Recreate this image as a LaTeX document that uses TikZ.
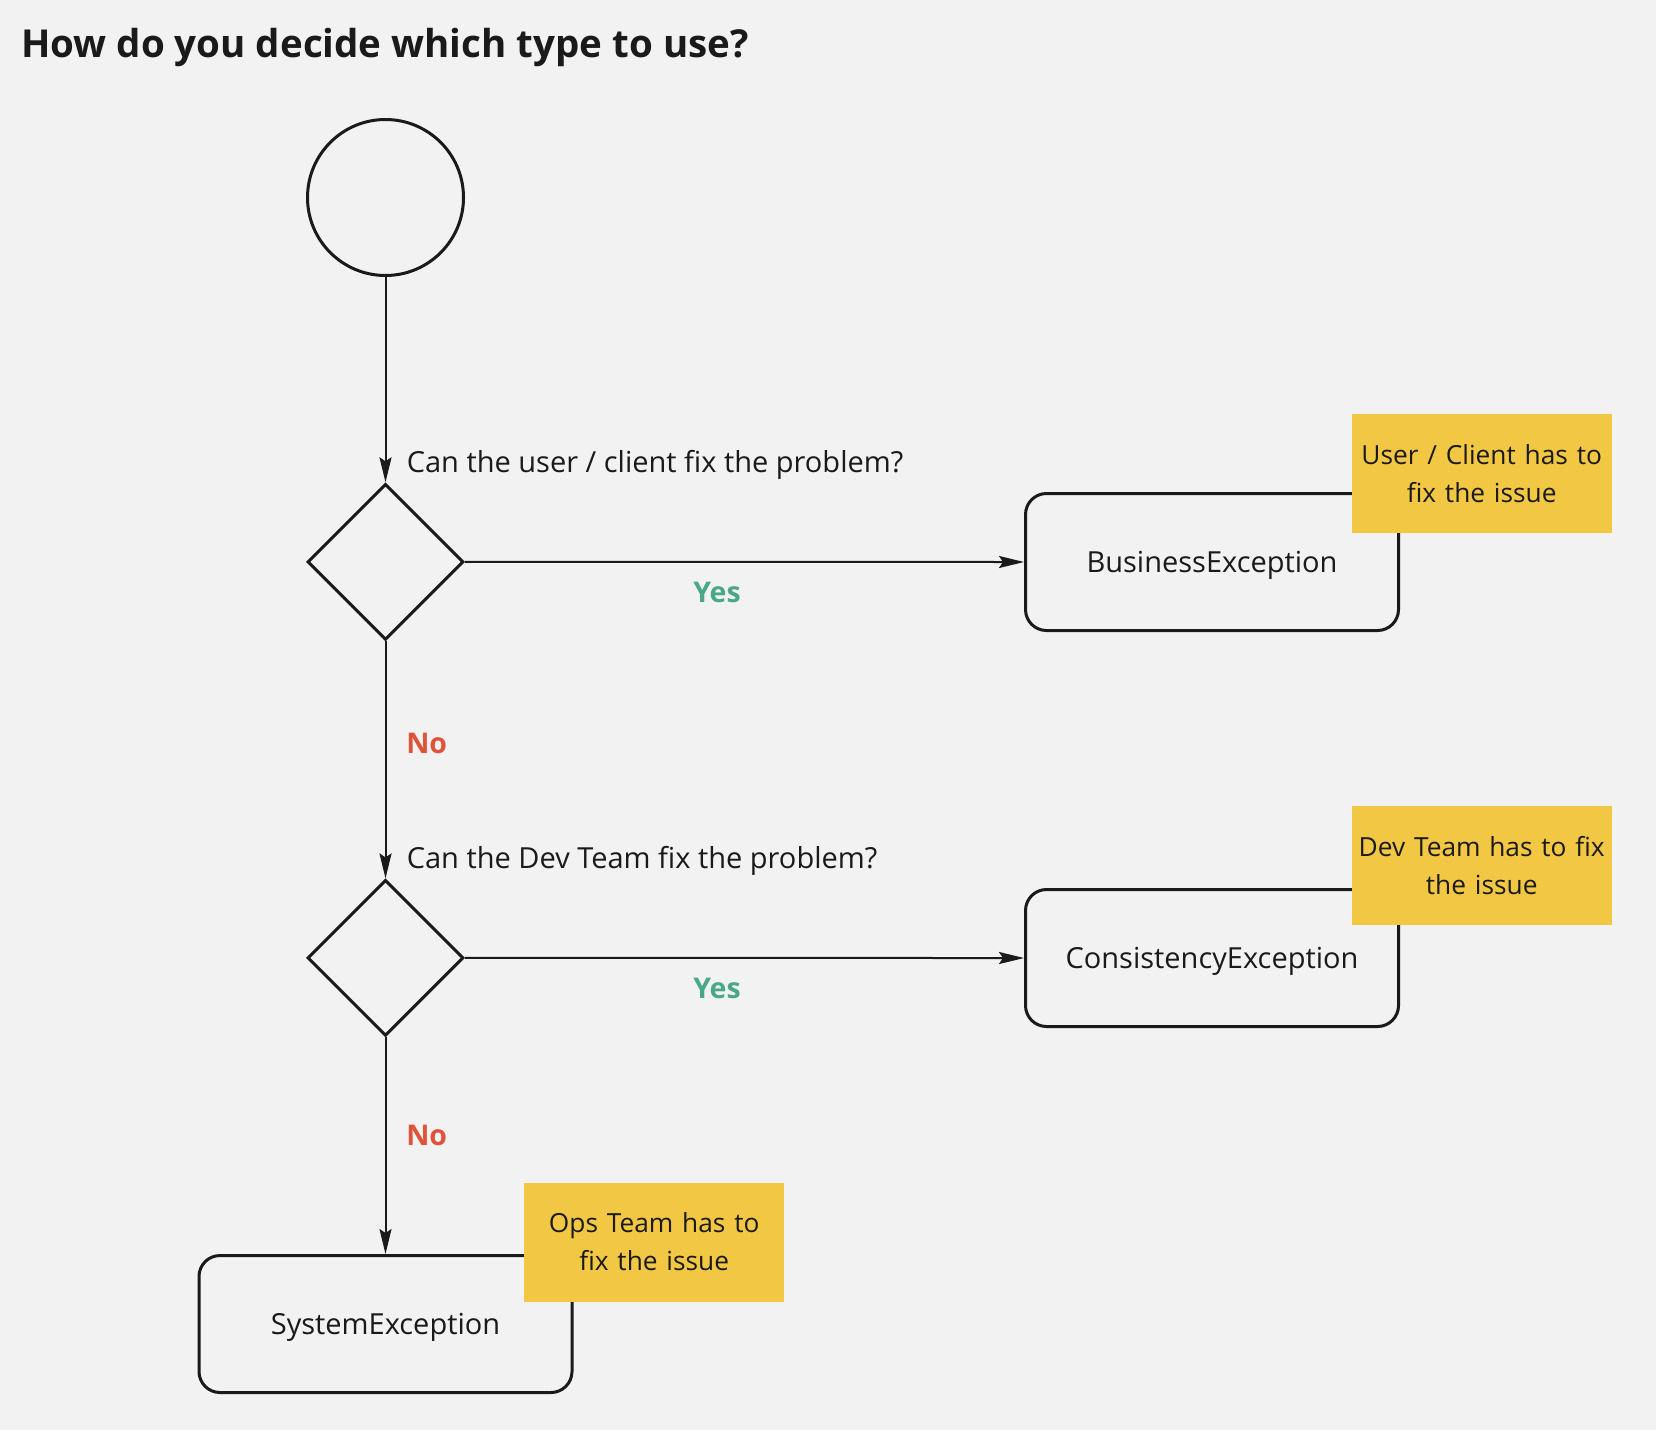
\documentclass[tikz,border=0pt]{standalone}
\usepackage{fontspec}
\setmainfont{Open Sans}
\usetikzlibrary{shapes.geometric,arrows.meta}
\definecolor{bgc}{HTML}{F2F2F2}
\definecolor{notec}{HTML}{F2C744}
\definecolor{yesc}{HTML}{4AA88A}
\definecolor{noc}{HTML}{E0533A}
\definecolor{inkc}{HTML}{1A1A1A}
\begin{document}
\begin{tikzpicture}[x=1pt,y=-1pt,
  body/.style={font=\fontsize{29}{38}\selectfont, text=inkc},
  startc/.style={circle, draw=inkc, line width=3pt, minimum size=156pt, inner sep=0pt},
  decision/.style={diamond, draw=inkc, line width=3pt, minimum width=156pt, minimum height=156pt, inner sep=0pt, aspect=1},
  exbox/.style={body, draw=inkc, line width=3pt, rounded corners=21pt, minimum width=373pt, minimum height=137pt, inner sep=0pt, text depth=0pt},
  note/.style={font=\fontsize{26.3}{38}\selectfont, text=inkc, fill=notec, minimum width=260pt, minimum height=119pt, align=center, inner sep=0pt, text width=250pt},
  conn/.style={draw=inkc, line width=2pt, -{Stealth[length=25pt,width=12pt,inset=4pt]}},
  yeslbl/.style={font=\fontsize{28.5}{32}\selectfont\bfseries, text=yesc},
  nolbl/.style={font=\fontsize{28.5}{32}\selectfont\bfseries, text=noc},
  qlbl/.style={body, anchor=base west, inner sep=0pt}
]
\fill[bgc] (0,0) rectangle (1656,1430);
\node[anchor=base west, inner sep=0pt, font=\fontsize{38.5}{44}\selectfont\bfseries, text=inkc] (title) at (21,57) {How do you decide which type to use?};

\node[startc] (start) at (385.5,197.5) {};
\node[decision] (d1) at (385.5,561.8) {};
\node[decision] (d2) at (385.5,957.9) {};
\node[exbox] (be) at (1212,562) {BusinessException};
\node[exbox] (ce) at (1212,958) {ConsistencyException};
\node[exbox] (se) at (385.5,1324) {SystemException};

\node[note] (n1) at (1481.7,473.6) {User / Client has to\\fix the issue};
\node[note] (n2) at (1481.7,865.5) {Dev Team has to fix\\the issue};
\node[note] (n3) at (654.2,1242) {Ops Team has to\\fix the issue};

\node[qlbl] (q1) at (406.6,472) {Can the user / client fix the problem?};
\node[qlbl] (q2) at (406.6,868) {Can the Dev Team fix the problem?};

\draw[conn] (start) -- (d1.north);
\draw[conn] (d1.east) -- (be.west);
\draw[conn] (d1.south) -- (d2.north);
\draw[conn] (d2.east) -- (ce.west);
\draw[conn] (d2.south) -- (se.north);

\node[yeslbl] (y1) at (717,592) {Yes};
\node[yeslbl] (y2) at (717,988.5) {Yes};
\node[nolbl] (no1) at (426.7,743) {No};
\node[nolbl] (no2) at (426.7,1135) {No};
\end{tikzpicture}
\end{document}
